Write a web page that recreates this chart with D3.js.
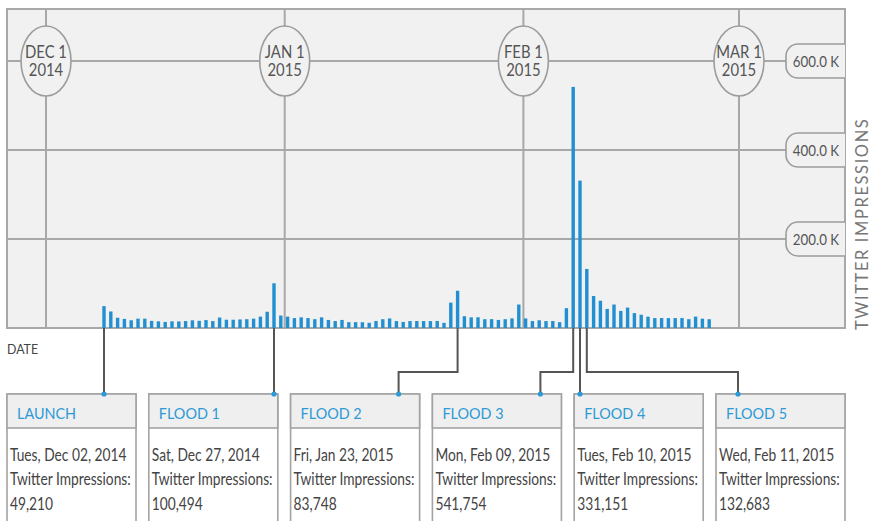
<!DOCTYPE html>
<html>
<head>
<meta charset="utf-8">
<script src="https://cdn.jsdelivr.net/npm/d3@7"></script>
<style>
  body { margin: 0; background: #fff; }
  text { font-family: Lato, "Open Sans", sans-serif; }
</style>
</head>
<body>
<svg id="chart" width="871" height="521"></svg>
<script>
// Daily Twitter impressions, Tue Dec 2 2014 through Sun Mar 1 2015
const parseDay = d3.utcParse("%Y-%m-%d");
const firstDay = parseDay("2014-12-02");
const lastDay = parseDay("2015-03-01");
const days = d3.utcDay.range(firstDay, d3.utcDay.offset(lastDay, 1));

const impressions = [
  // Dec 2 - Dec 31
  49210, 37200, 23000, 20500, 17400, 21000, 21000, 16000, 15000, 13600,
  15000, 14800, 15600, 17300, 16100, 17800, 15600, 23500, 18600, 18600,
  19300, 19800, 21000, 25500, 36500, 100494, 28000, 25500, 22300, 24000,
  // Jan 1 - Jan 31
  22300, 19800, 24000, 18100, 15600, 18100, 13100, 13200, 13000, 11700,
  15700, 19800, 21500, 15600, 13600, 15600, 15700, 15500, 15600, 15800,
  11600, 57000, 83748, 26500, 24000, 24100, 19800, 19900, 18100, 19800,
  21600,
  // Feb 1 - Feb 28
  52800, 21500, 15600, 17400, 15600, 15700, 13100, 44600, 541754, 331151,
  132683, 71900, 61300, 42900, 52800, 38400, 45900, 33500, 29800, 25500,
  22300, 22400, 22200, 22300, 22400, 19800, 25600, 21000,
  // Mar 1
  19800
];

// Month markers on the top line
const monthDates = ["2014-12-01", "2015-01-01", "2015-02-01", "2015-03-01"].map(parseDay);
const monthLabels = [["DEC 1", "2014"], ["JAN 1", "2015"], ["FEB 1", "2015"], ["MAR 1", "2015"]];

// Value axis
const yTicks = [200000, 400000, 600000];
const fmtTick = v => d3.format(".1f")(v / 1000) + " K";

// Annotated days
const eventNames = ["LAUNCH", "FLOOD 1", "FLOOD 2", "FLOOD 3", "FLOOD 4", "FLOOD 5"];
const eventDays = ["2014-12-02", "2014-12-27", "2015-01-23", "2015-02-09", "2015-02-10", "2015-02-11"].map(parseDay);
const eventDayLabels = ["Tues, Dec 02, 2014", "Sat, Dec 27, 2014", "Fri, Jan 23, 2015",
                        "Mon, Feb 09, 2015", "Tues, Feb 10, 2015", "Wed, Feb 11, 2015"];
const eventValues = [49210, 100494, 83748, 541754, 331151, 132683];

// ---- layout ----
const svg = d3.select("#chart");
const frame = { left: 7, top: 9, right: 845, bottom: 328 };
const grid = "#a8a8a8";
const plotBg = "#f1f1f1";
const barBlue = "#2290d0";
const headBlue = "#2d9ad6";
const textGray = "#555";

const xDay = d3.scaleBand()
  .domain(days.map(d => +d))
  .range([100.6, 712.6])
  .paddingInner(0.5)
  .paddingOuter(0.25);

const xMonth = d3.scaleTime()
  .domain([monthDates[0], monthDates[3]])
  .range([46, 739]);

const y = d3.scaleLinear()
  .domain([0, 600000])
  .range([frame.bottom, 61]);

// condensed text helper
function label(g, x, yPos, str, opts = {}) {
  const sx = opts.sx ?? 0.9;
  return g.append("text")
    .attr("transform", `translate(${x},${yPos}) scale(${sx},1)`)
    .attr("text-anchor", opts.anchor || "start")
    .attr("font-size", opts.size || 16)
    .attr("fill", opts.fill || textGray)
    .attr("letter-spacing", opts.ls || null)
    .text(str);
}

// plot background
svg.append("rect")
  .attr("x", frame.left).attr("y", frame.top)
  .attr("width", frame.right - frame.left).attr("height", frame.bottom - frame.top)
  .attr("fill", plotBg);

// horizontal grid
svg.append("g").selectAll("line").data(yTicks).join("line")
  .attr("x1", frame.left).attr("x2", frame.right)
  .attr("y1", d => y(d)).attr("y2", d => y(d))
  .attr("stroke", grid).attr("stroke-width", 2);

// vertical month lines
svg.append("g").selectAll("line").data(monthDates).join("line")
  .attr("x1", d => xMonth(d)).attr("x2", d => xMonth(d))
  .attr("y1", frame.top).attr("y2", frame.bottom)
  .attr("stroke", grid).attr("stroke-width", 2);

// frame
svg.append("rect")
  .attr("x", frame.left).attr("y", frame.top)
  .attr("width", frame.right - frame.left).attr("height", frame.bottom - frame.top)
  .attr("fill", "none").attr("stroke", grid).attr("stroke-width", 2);

// bars
svg.append("g").selectAll("rect").data(impressions).join("rect")
  .attr("x", (d, i) => xDay(+days[i]))
  .attr("width", xDay.bandwidth())
  .attr("y", d => y(d))
  .attr("height", d => frame.bottom - y(d))
  .attr("fill", barBlue);

// month bubbles
const mg = svg.append("g");
monthDates.forEach((d, i) => {
  const cx = xMonth(d), cy = y(600000);
  mg.append("ellipse").attr("cx", cx).attr("cy", cy).attr("rx", 25).attr("ry", 35)
    .attr("fill", plotBg).attr("stroke", "#9c9c9c").attr("stroke-width", 1.6);
  label(mg, cx, cy - 3, monthLabels[i][0], { anchor: "middle", size: 16.5, sx: 0.9 });
  label(mg, cx, cy + 15, monthLabels[i][1], { anchor: "middle", size: 16.5, sx: 0.9 });
});

// value-axis tabs on the right edge
const tg = svg.append("g");
yTicks.forEach(v => {
  const cy = y(v), h = 17, r = 12, x0 = 786;
  tg.append("path")
    .attr("d", `M${frame.right},${cy - h} H${x0 + r} A${r},${r} 0 0 0 ${x0},${cy - h + r}
                V${cy + h - r} A${r},${r} 0 0 0 ${x0 + r},${cy + h} H${frame.right}`)
    .attr("fill", plotBg).attr("stroke", "#9c9c9c").attr("stroke-width", 1.6);
  label(tg, 816, cy + 5.5, fmtTick(v), { anchor: "middle", size: 15.5, sx: 0.86 });
});

// axis titles
label(svg, 7, 354, "DATE", { size: 13, sx: 0.95, fill: "#444" });
svg.append("text")
  .attr("transform", "translate(868,330) rotate(-90)")
  .attr("font-size", 16.5)
  .attr("fill", "#777")
  .attr("letter-spacing", 1.6)
  .text("TWITTER IMPRESSIONS");

// event cards
const xCard = d3.scaleBand().domain(eventNames).range([frame.left, frame.right]).paddingInner(0.0903);
const cardTop = 394, headBottom = 428, elbowY = 372;
const cg = svg.append("g");

eventNames.forEach((name, i) => {
  const left = xCard(name), w = xCard.bandwidth(), right = left + w;
  const barX = xDay(+eventDays[i]) + xDay.bandwidth() / 2;
  let dotX = barX;
  if (barX > right - 3) dotX = right - 21;
  else if (barX < left + 3) dotX = left + 22;

  // leader line
  const pts = dotX === barX
    ? [[barX, frame.bottom], [barX, cardTop]]
    : [[barX, frame.bottom], [barX, elbowY], [dotX, elbowY], [dotX, cardTop]];
  cg.append("path").attr("d", d3.line()(pts))
    .attr("fill", "none").attr("stroke", "#555").attr("stroke-width", 2);

  // card body and header
  cg.append("rect").attr("x", left).attr("y", cardTop).attr("width", w).attr("height", 140)
    .attr("fill", "#fff").attr("stroke", "#a3a3a3").attr("stroke-width", 1.6);
  cg.append("rect").attr("x", left).attr("y", cardTop).attr("width", w).attr("height", headBottom - cardTop)
    .attr("fill", "#efefef").attr("stroke", "#a3a3a3").attr("stroke-width", 1.6);

  cg.append("circle").attr("cx", dotX).attr("cy", cardTop).attr("r", 2.6).attr("fill", headBlue);

  label(cg, left + 10, 419, name, { size: 16, sx: 0.9, fill: headBlue });
  label(cg, left + 3, 461, eventDayLabels[i], { size: 17, sx: 0.81, fill: "#444" });
  label(cg, left + 3, 485, "Twitter Impressions:", { size: 17, sx: 0.81, fill: "#444" });
  label(cg, left + 3, 510, d3.format(",")(eventValues[i]), { size: 17, sx: 0.81, fill: "#444" });
});
</script>
</body>
</html>
